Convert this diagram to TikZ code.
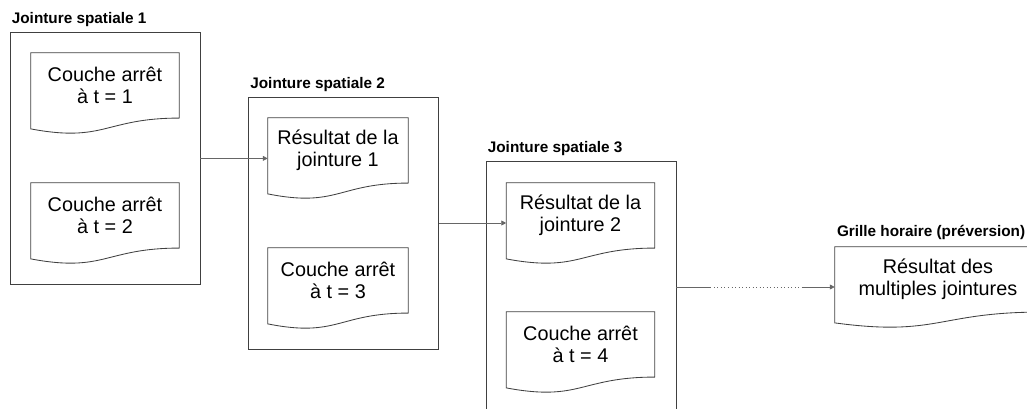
\documentclass[tikz,border=0pt]{standalone}
\usepackage{fontspec}
\setmainfont{Liberation Sans}
\usetikzlibrary{arrows.meta,calc}

\begin{document}
\begin{tikzpicture}[
        group/.style={rectangle, draw=black!75, line width=0.6pt, minimum width=4.75cm, minimum height=6.3cm},
        grouptitle/.style={anchor=base west, inner sep=0pt, font=\bfseries\fontsize{10.9}{13}\selectfont},
        doc/.style={rectangle, minimum width=#1, minimum height=1.62cm, align=center, font=\fontsize{14.1}{16}\selectfont},
        doc/.default=3.7cm,
        docline/.style={draw=black!75, line width=0.6pt},
        link/.style={draw=black!60, line width=0.5pt},
        arrow/.style={link, -{Triangle[length=3.5pt,width=3.5pt]}}
    ]

        \useasboundingbox (0,0) rectangle (25.675,-10.225);

        % Jointure spatiale 1
        \node[group] (box1) at (2.625,-3.96) {};
        \node[grouptitle] (title1) at ([shift={(0.05,0.2)}]box1.north west) {Jointure spatiale 1};
        \node[doc] (doc11) at (2.625,-2.135) {Couche arrêt\\à t = 1};
        \node[doc] (doc12) at (2.625,-5.385) {Couche arrêt\\à t = 2};

        % Jointure spatiale 2
        \node[group] (box2) at (8.5875,-5.575) {};
        \node[grouptitle] (title2) at ([shift={(0.05,0.2)}]box2.north west) {Jointure spatiale 2};
        \node[doc=3.5cm] (doc21) at (8.45,-3.76) {Résultat de la\\jointure 1};
        \node[doc=3.5cm] (doc22) at (8.45,-7.01) {Couche arrêt\\à t = 3};

        % Jointure spatiale 3
        \node[group] (box3) at (14.525,-7.175) {};
        \node[grouptitle] (title3) at ([shift={(0.05,0.2)}]box3.north west) {Jointure spatiale 3};
        \node[doc] (doc31) at (14.5125,-5.385) {Résultat de la\\jointure 2};
        \node[doc] (doc32) at (14.5125,-8.61) {Couche arrêt\\à t = 4};

        % Grille horaire
        \node[doc=5.15cm] (doc4) at (23.45,-6.985) {Résultat des\\multiples jointures};
        \node[grouptitle] (title4) at ([shift={(0.05,0.25)}]doc4.north west) {Grille horaire (préversion)};

        % document outlines with wavy bottom
        \foreach \d in {doc11,doc12,doc21,doc22,doc31,doc32,doc4}
            \draw[docline] (\d.north west) -- (\d.north east) -- (\d.south east)
                .. controls ($(\d.south west)!0.5!(\d.south east)$)
                and ($(\d.south west)!0.5!(\d.south east)+(0,-0.62)$)
                .. ([yshift=-0.27cm]\d.south west) -- cycle;

        % Arrows
        \draw[arrow] (box1.east) -- (box1.east -| doc21.west);
        \draw[arrow] (box2.east) -- (box2.east -| doc31.west);
        \coordinate (gapA) at ([xshift=0.85cm]box3.east);
        \coordinate (gapB) at ([xshift=-0.825cm]box3.east -| doc4.west);
        \draw[link] (box3.east) -- (gapA);
        \draw[link, dotted] (gapA) -- (gapB);
        \draw[arrow] (gapB) -- (box3.east -| doc4.west);

\end{tikzpicture}
\end{document}
